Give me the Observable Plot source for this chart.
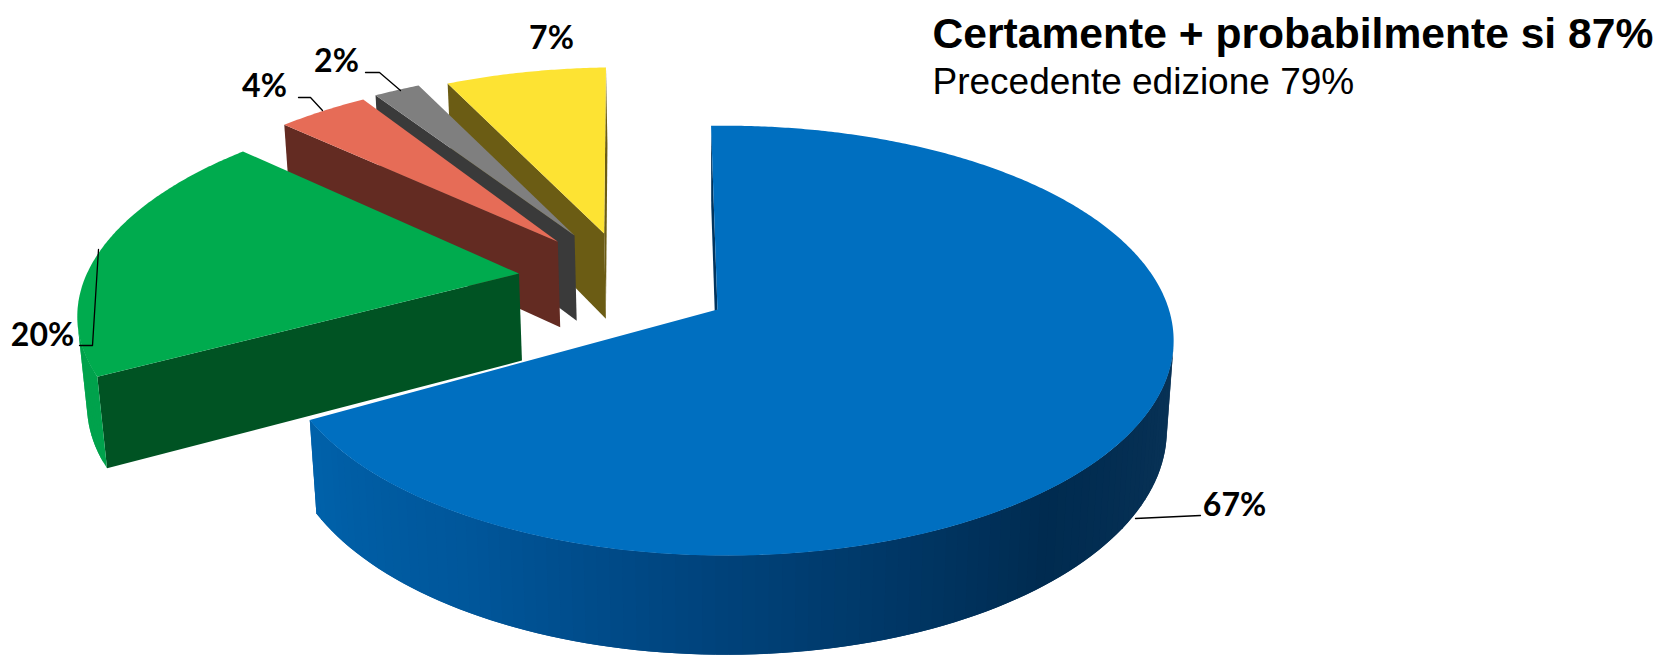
<!DOCTYPE html>
<html><head><meta charset="utf-8">
<style>html,body{margin:0;padding:0;background:#fff}svg{display:block}</style>
<script src="https://cdn.jsdelivr.net/npm/d3@7"></script>
<script src="https://cdn.jsdelivr.net/npm/@observablehq/plot@0.6"></script>
</head><body><div id="c"></div>
<script>
// values, in drawing order clockwise from the top
const values = [67,20,4,2,7];
const topColors = ["#006fc0","#00ab4e","#e66c57","#7f7f7f","#fde333"];
const wallColors = ["#00345e","#005323","#632b22","#3a3a3a","#6b5c14"];
const rimStops = [
  [[90,"#0c3558"],[140,"#002b50"],[180,"#00427a"],[210,"#00569a"],[242,"#0062ab"]],
  [[230,"#00a24c"],[320,"#00a24c"]],
  [[300,"#c05a48"],[330,"#c05a48"]],
  [[320,"#666666"],[340,"#666666"]],
  [[330,"#d8c030"],[360,"#d8c030"]]
];
// rim centre of each slice on the pie plane, and the blue wedge's vertex
const apexX = [0,-0.479,-0.398,-0.36,-0.29];
const apexY = [0,-0.175,-0.338,-0.371,-0.381];
const vertexX = [-0.019,0,0,0,0];
const trimStart = [0,2.3,0.9,0,0.4];
const trimEnd = [1.8,0.9,0.6,0,0.2];
const drawOrder = [4,3,2,1,0];
const startAngle = -2.2;

const labelX = [1234,42,264,336,551];
const labelY = [505,335,86,61,38];
const leaders = [
  [[1135,518],[1200,515]],
  [[98,249],[92,345],[79,345]],
  [[322,110],[310,97],[298,97]],
  [[365,72],[379,72],[400,90]]
];
const titleLines = ["Certamente + probabilmente si 87%","Precedente edizione 79%"];

const cam = {cx:725.4,cy:309,R:443,T:210.4,H:90,k:0.145,m:0.015};
function proj(X,Y,Z){
  const s = 1/(1-cam.k*Y+cam.m*Z);
  return [cam.cx+cam.R*X*s, cam.cy+(cam.T*Y+cam.H*Z)*s];
}
const dir = a => [Math.sin(a*Math.PI/180),-Math.cos(a*Math.PI/180)];
const visible = q => d3.polygonArea(q) > 0;

const rows = [];
let uid = 0;
function poly(pts,color){ const id = uid++; for(const p of pts) rows.push({id,x:p[0],y:p[1],color}); }

let acc = startAngle;
const slices = values.map((v,i)=>{ const a0=acc+trimStart[i]; acc+=v*3.6; return {i,a0,a1:acc+trimEnd[i]}; });
for(const idx of drawOrder){
  const {i,a0,a1} = slices[idx];
  const ax=apexX[i], ay=apexY[i];
  const at=(a,Z)=>{const d=dir(a);return proj(ax+d[0],ay+d[1],Z);};
  const apex=Z=>proj(ax+vertexX[i],ay,Z);
  const w0=[apex(0),at(a0,0),at(a0,1),apex(1)];
  const w1=[at(a1,0),apex(0),apex(1),at(a1,1)];
  if(visible(w0)) poly(w0,wallColors[i]);
  if(visible(w1)) poly(w1,wallColors[i]);
  const shade=d3.scaleLinear().domain(rimStops[i].map(d=>d[0])).range(rimStops[i].map(d=>d[1])).interpolate(d3.interpolateRgb);
  const nStrip=Math.ceil((a1-a0)/1.5), step=(a1-a0)/nStrip;
  for(let j=0;j<nStrip;j++){
    const a=a0+j*step, b=Math.min(a1,a+step*2);
    const q=[at(a,0),at(b,0),at(b,1),at(a,1)];
    if(visible(q)) poly(q,shade(a+step/2));
  }
  const topPts=[apex(0)];
  const n=Math.ceil((a1-a0)/0.5);
  for(let j=0;j<=n;j++) topPts.push(at(a0+(a1-a0)*j/n,0));
  poly(topPts,topColors[i]);
}

const leaderRows = leaders.flatMap((l,id)=>l.map(p=>({id,x:p[0],y:p[1]})));
const labelRows = values.map((v,i)=>({t:v+"%",x:labelX[i],y:labelY[i]}));

const chart = Plot.plot({
  width:1658,height:655,margin:0,
  x:{domain:[0,1658],axis:null},
  y:{domain:[655,0],axis:null},
  color:{type:"identity"},
  marks:[
    Plot.line(rows,{x:"x",y:"y",z:"id",fill:"color",stroke:"none",curve:"linear"}),
    Plot.line(leaderRows,{x:"x",y:"y",z:"id",stroke:"#000",strokeWidth:1.3,curve:"linear"}),
    Plot.text(labelRows,{x:"x",y:"y",text:"t",fontFamily:"Lato",fontWeight:"bold",fontSize:32,fill:"#000",textAnchor:"middle",lineAnchor:"middle"}),
    Plot.text([titleLines[0]],{x:[932],y:[47],text:d=>d,fontFamily:"Liberation Sans",fontWeight:"bold",fontSize:42.6,fill:"#000",textAnchor:"start",lineAnchor:"bottom"}),
    Plot.text([titleLines[1]],{x:[932],y:[93],text:d=>d,fontFamily:"Liberation Sans",fontSize:37,fill:"#000",textAnchor:"start",lineAnchor:"bottom"})
  ]
});
document.getElementById("c").appendChild(chart);
</script></body></html>
